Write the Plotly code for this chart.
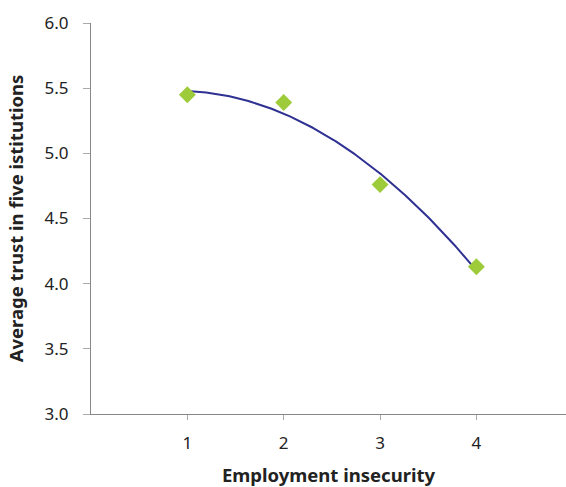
import numpy as np
import plotly.graph_objects as go

insecurity = [1, 2, 3, 4]
trust = [5.45, 5.39, 4.76, 4.13]
x_ticks = [1, 2, 3, 4]
y_ticks = [3.0, 3.5, 4.0, 4.5, 5.0, 5.5, 6.0]

# quadratic trend line fitted to the data points
coef = np.polyfit(insecurity, trust, 2)
xs = np.linspace(min(insecurity), max(insecurity), 200)
ys = np.polyval(coef, xs)

fig = go.Figure()
fig.add_trace(go.Scatter(x=xs, y=ys, mode="lines",
                         line=dict(color="#2E3192", width=2), hoverinfo="skip"))
fig.add_trace(go.Scatter(x=insecurity, y=trust, mode="markers",
                         marker=dict(symbol="diamond", size=13, color="#9DCB3A",
                                     line=dict(width=0))))

font_family = "'Noto Sans', sans-serif"
fig.update_layout(
    width=566, height=487,
    margin=dict(l=91, r=0, t=23, b=73),
    plot_bgcolor="white", paper_bgcolor="white",
    showlegend=False,
    font=dict(family=font_family, size=17, color="#222"),
)
fig.update_xaxes(
    range=[0, 4.93], tickvals=x_ticks, ticktext=[str(v) for v in x_ticks],
    showgrid=False, zeroline=False, showline=True, linecolor="#888", linewidth=1.2,
    ticks="outside", ticklen=5, tickcolor="#aaa", tickwidth=1,
    ticklabelstandoff=8, automargin=False,
    title=dict(text="<b>Employment insecurity</b>", font=dict(size=18.5), standoff=18),
)
fig.update_yaxes(
    range=[3.0, 6.0], tickvals=y_ticks, ticktext=[f"{v:.1f}" for v in y_ticks],
    showgrid=False, zeroline=False, showline=True, linecolor="#888", linewidth=1.2,
    ticks="outside", ticklen=7, tickcolor="#aaa", tickwidth=1,
    ticklabelstandoff=11, automargin=False,
    title=dict(text="<b>Average trust in five istitutions</b>", font=dict(size=18.5), standoff=16),
)
fig.write_html("out.html", config={"displayModeBar": False},
               post_script="document.body.style.margin='0';")
